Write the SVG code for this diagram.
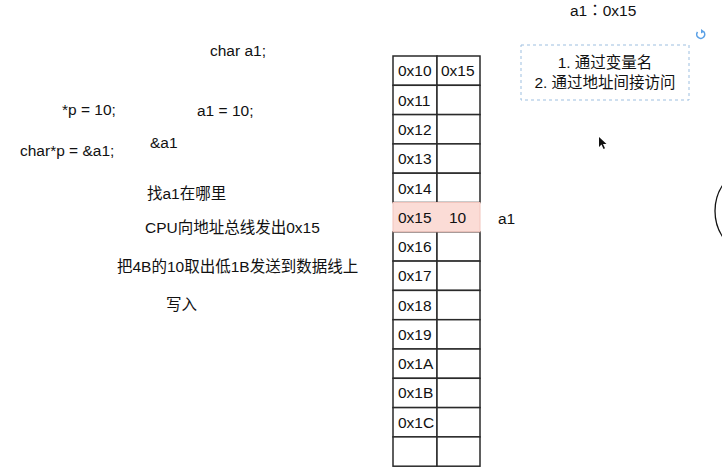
<svg xmlns="http://www.w3.org/2000/svg" width="722" height="476" viewBox="0 0 722 476">
<style>
text{font-family:"Liberation Sans","Noto Sans CJK SC",Arial,sans-serif;font-size:15.5px;fill:#111;}
.tc{font-family:"Liberation Sans","Noto Sans CJK TC",Arial,sans-serif;}
.cell{fill:#fff;stroke:#2a2a2a;stroke-width:1.5;}
.hl{fill:#fbdcd6;stroke:#f2c4bc;stroke-width:1;}
.mid{text-anchor:middle;}
</style>
<rect width="722" height="476" fill="#fff"/>
<g id="labels">
<text x="210" y="56">char a1;</text>
<text x="62" y="115">*p = 10;</text>
<text x="197" y="116">a1 = 10;</text>
<text x="150" y="148">&amp;a1</text>
<text x="20" y="156">char*p = &amp;a1;</text>
<text x="147" y="199">找a1在哪里</text>
<text x="145" y="233">CPU向地址总线发出0x15</text>
<text x="117" y="272">把4B的10取出低1B发送到数据线上</text>
<text x="166" y="310">写入</text>
<text class="tc" x="570" y="16">a1：0x15</text>
<text x="498" y="224">a1</text>
</g>
<g id="memory-table">
<rect class="cell" x="393" y="56" width="44" height="29.3"/><rect class="cell" x="437" y="56" width="43" height="29.3"/>
<rect class="cell" x="393" y="85.3" width="44" height="29.3"/><rect class="cell" x="437" y="85.3" width="43" height="29.3"/>
<rect class="cell" x="393" y="114.6" width="44" height="29.3"/><rect class="cell" x="437" y="114.6" width="43" height="29.3"/>
<rect class="cell" x="393" y="143.9" width="44" height="29.3"/><rect class="cell" x="437" y="143.9" width="43" height="29.3"/>
<rect class="cell" x="393" y="173.2" width="44" height="29.3"/><rect class="cell" x="437" y="173.2" width="43" height="29.3"/>
<rect class="cell" x="393" y="231.8" width="44" height="29.3"/><rect class="cell" x="437" y="231.8" width="43" height="29.3"/>
<rect class="cell" x="393" y="261.1" width="44" height="29.3"/><rect class="cell" x="437" y="261.1" width="43" height="29.3"/>
<rect class="cell" x="393" y="290.4" width="44" height="29.3"/><rect class="cell" x="437" y="290.4" width="43" height="29.3"/>
<rect class="cell" x="393" y="319.7" width="44" height="29.3"/><rect class="cell" x="437" y="319.7" width="43" height="29.3"/>
<rect class="cell" x="393" y="349" width="44" height="29.3"/><rect class="cell" x="437" y="349" width="43" height="29.3"/>
<rect class="cell" x="393" y="378.3" width="44" height="29.3"/><rect class="cell" x="437" y="378.3" width="43" height="29.3"/>
<rect class="cell" x="393" y="407.6" width="44" height="29.3"/><rect class="cell" x="437" y="407.6" width="43" height="29.3"/>
<rect class="cell" x="393" y="436.9" width="44" height="29.3"/><rect class="cell" x="437" y="436.9" width="43" height="29.3"/>
<rect class="hl" x="393" y="202.5" width="87" height="29.3"/>
<text x="398" y="76">0x10</text><text x="441" y="76">0x15</text>
<text x="398" y="106">0x11</text>
<text x="398" y="135">0x12</text>
<text x="398" y="164">0x13</text>
<text x="398" y="194">0x14</text>
<text x="398" y="223">0x15</text><text x="449" y="223">10</text>
<text x="398" y="252">0x16</text>
<text x="398" y="281">0x17</text>
<text x="398" y="311">0x18</text>
<text x="398" y="340">0x19</text>
<text x="398" y="369">0x1A</text>
<text x="398" y="398">0x1B</text>
<text x="398" y="428">0x1C</text>
</g>
<g id="note-box">
<rect x="521" y="45" width="168" height="55" fill="#fff" stroke="#9dbfe0" stroke-width="1" stroke-dasharray="3 3"/>
<text class="mid" x="605" y="68">1. 通过变量名</text>
<text class="mid" x="605" y="88">2. 通过地址间接访问</text>
</g>
<g id="refresh-icon">
<path d="M703.5,31.5 A4,4 0 1 1 697.5,32" fill="none" stroke="#5aa0e6" stroke-width="1.6"/>
<path d="M701,29 L704.5,31.5 L701,33.5 Z" fill="#5aa0e6"/>
</g>
<g id="cursor">
<path d="M599,137 L599,147 L601.5,144.5 L603.5,149 L605,148.3 L603,144 L606.5,144 Z" fill="#111"/>
</g>
<g id="circle">
<circle cx="762" cy="211" r="47" fill="none" stroke="#111" stroke-width="1.3"/>
</g>
<g id="connectors"></g>
</svg>
